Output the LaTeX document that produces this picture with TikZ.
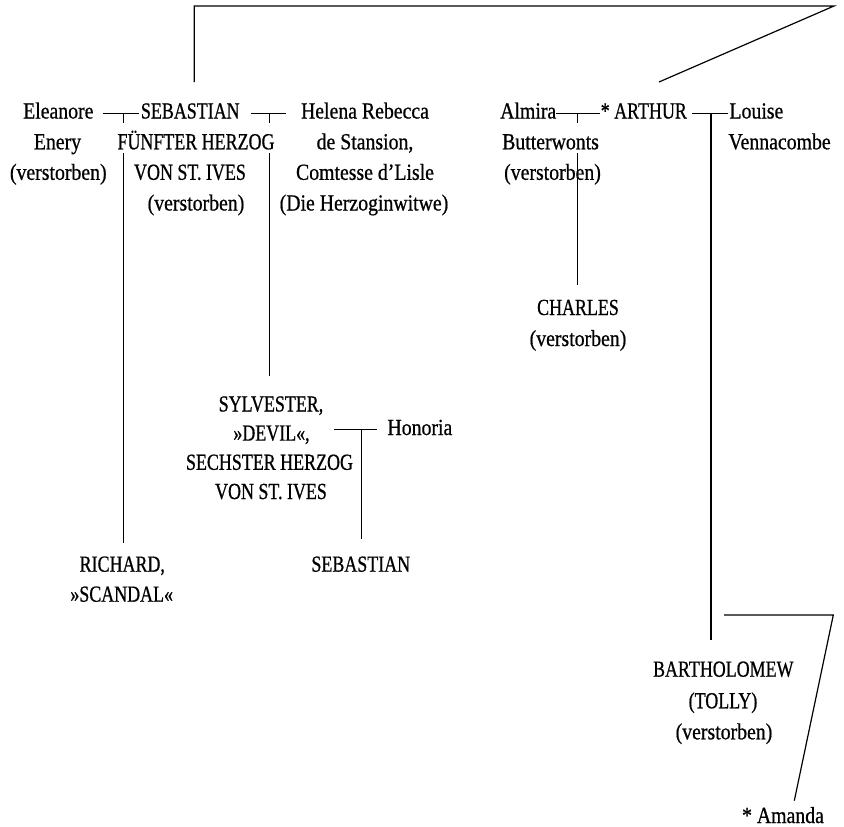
\documentclass[tikz,border=0pt]{standalone}
\usepackage{fontspec}
\setmainfont{Liberation Serif}[FakeStretch=0.86,FakeBold=0.7]
\newfontfamily\capsfont{Liberation Serif}[FakeStretch=0.78,FakeBold=0.7]
\usetikzlibrary{backgrounds}
\begin{document}
\begin{tikzpicture}[x=1pt,y=-1pt,
  lc/.style={inner sep=0pt, anchor=base, font=\fontsize{23}{28}\selectfont},
  uc/.style={lc, font=\fontsize{23}{28}\selectfont\capsfont},
  lw/.style={anchor=base west},
  mask/.style={fill=white, text height=26pt, text depth=4pt},
  link/.style={line width=1.2pt, line join=miter}]
\useasboundingbox (0,0) rectangle (844,827);

% --- first generation, left family
\node[lc] (ele1) at (58.3,118.5) {Eleanore};
\node[lc] (ele2) at (57.5,149.3) {Enery};
\node[lc] (ele3) at (58.3,179.8) {(verstorben)};

\node[uc] (seb1) at (190.3,118.5) {SEBASTIAN};
\node[uc,mask] (seb2) at (196,149.3) {FÜNFTER HERZOG};
\node[uc] (seb3) at (190,179.8) {VON ST. IVES};
\node[lc] (seb4) at (196,210.5) {(verstorben)};

\node[lc] (hel1) at (365,118.5) {Helena Rebecca};
\node[lc] (hel2) at (365,149.3) {de Stansion,};
\node[lc] (hel3) at (365,179.8) {Comtesse d’Lisle};
\node[lc] (hel4) at (364,210.5) {(Die Herzoginwitwe)};

% --- first generation, right family
\node[lc,lw] (alm1) at (500,118.5) {Almira};
\node[lc,lw,mask] (alm2) at (502,149.3) {Butterwonts};
\node[lc,lw] (alm3) at (504,179.8) {(verstorben)};

\node[uc] (art) at (643.8,118.5) {* ARTHUR};

\node[lc,lw] (lou1) at (729.3,118.5) {Louise};
\node[lc,lw] (lou2) at (728.3,149.3) {Vennacombe};

% --- children
\node[uc] (cha1) at (578,315) {CHARLES};
\node[lc] (cha2) at (578,346) {(verstorben)};

\node[uc] (syl1) at (271,411.5) {SYLVESTER,};
\node[uc] (syl2) at (271.5,440.6) {»DEVIL«,};
\node[uc] (syl3) at (269.5,469.8) {SECHSTER HERZOG};
\node[uc] (syl4) at (271,499) {VON ST. IVES};

\node[lc,lw] (hon) at (387.3,435) {Honoria};

\node[uc] (seb5) at (360.8,571.7) {SEBASTIAN};

\node[uc] (ric1) at (122.3,571.7) {RICHARD,};
\node[uc] (ric2) at (121.7,601.7) {»SCANDAL«};

\node[uc] (bar1) at (723.3,676.7) {BARTHOLOMEW};
\node[uc] (bar2) at (723,708.3) {(TOLLY)};
\node[lc] (bar3) at (724,739.3) {(verstorben)};

\node[lc,text depth=0pt] (ama) at (783,823) {* Amanda};

% --- connector end points
\coordinate (topA) at (194.3,82);
\coordinate (topB) at (194.3,6);
\coordinate (topC) at (834,6);
\coordinate (topD) at (659,82);

\coordinate (m1L) at (103.3,113.3);
\coordinate (m1R) at (139.3,113.3);
\coordinate (m1J) at (123.3,113.3);
\coordinate (ricTop) at (123.3,542.7);

\coordinate (m2L) at (251,113.3);
\coordinate (m2R) at (286,113.3);
\coordinate (m2J) at (269.3,113.3);
\coordinate (sylTop) at (269.3,376);

\coordinate (m3L) at (556,113.3);
\coordinate (m3R) at (600,113.3);
\coordinate (m3J) at (577.3,113.3);
\coordinate (chaTop) at (577.3,285);

\coordinate (m4L) at (691.7,113.3);
\coordinate (m4R) at (728.3,113.3);
\coordinate (m4J) at (711,113.3);
\coordinate (barTop) at (711,640);

\coordinate (m5L) at (334,429.3);
\coordinate (m5R) at (377.3,429.3);
\coordinate (m5J) at (361.5,429.3);
\coordinate (sebTop) at (361.5,539.3);

\coordinate (brA) at (724,615);
\coordinate (brB) at (833.3,615);
\coordinate (brC) at (794.3,800.7);

\begin{scope}[on background layer]
  \draw[link] (topA) -- (topB) -- (topC) -- (topD);
  \draw[link] (m1L) -- (m1R);
  \draw[link] (m1J) -- (ricTop);
  \draw[link] (m2L) -- (m2R);
  \draw[link] (m2J) -- (sylTop);
  \draw[link] (m3L) -- (m3R);
  \draw[link] (m3J) -- (chaTop);
  \draw[link] (m4L) -- (m4R);
  \draw[link] (m4J) -- (barTop);
  \draw[link] (m5L) -- (m5R);
  \draw[link] (m5J) -- (sebTop);
  \draw[link] (brA) -- (brB) -- (brC);
\end{scope}
\end{tikzpicture}
\end{document}
